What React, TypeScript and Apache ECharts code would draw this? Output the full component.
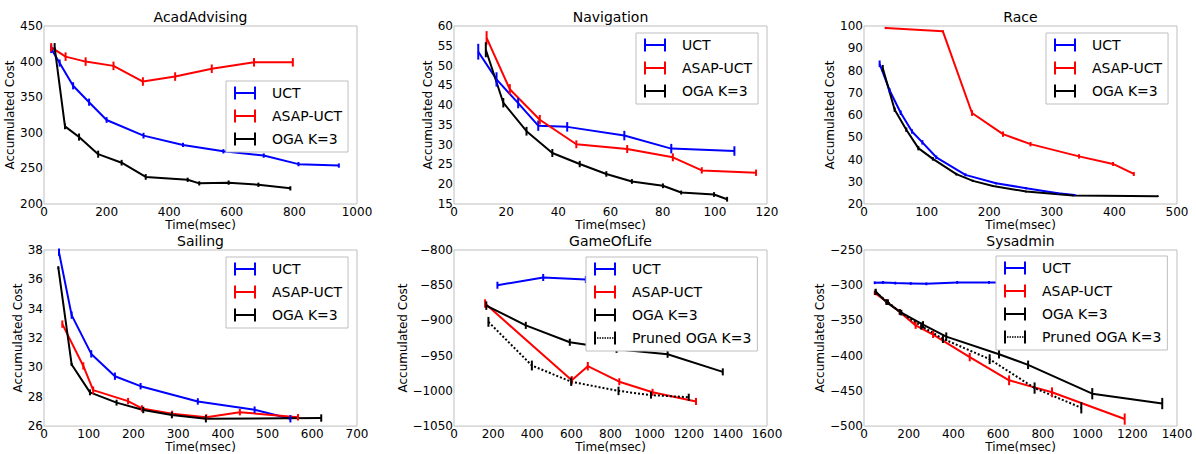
import React, { useEffect, useRef } from 'react';
import * as echarts from 'echarts';

const FONT = 'DejaVu Sans';
const BLUE = '#0000ff';
const RED = '#ff0000';
const BLACK = '#000000';

// Each point: [time (msec), accumulated cost, error half-width]
const acadUCT = [[23, 418, 6], [50, 398, 5], [93, 366, 5], [144, 343, 5], [200, 318, 4], [318, 296, 4], [444, 283, 3], [573, 274, 3], [702, 268, 3], [813, 256, 3], [942, 254, 3]];
const acadASAP = [[23, 420, 6], [69, 407, 6], [133, 400, 6], [222, 394, 6], [316, 372, 6], [419, 379, 6], [536, 390, 6], [671, 399, 6], [795, 399, 6]];
const acadOGA = [[34, 420, 6], [67, 309, 4], [112, 294, 5], [173, 270, 5], [248, 258, 4], [325, 238, 4], [459, 234, 3], [496, 229, 3], [590, 230, 3], [685, 227, 3], [787, 222, 3]];

const navUCT = [[9.3, 53.5, 2], [16.3, 46.5, 1.8], [24.6, 40.5, 1.3], [32.3, 34.8, 1.3], [43.4, 34.5, 1.2], [65.3, 32.3, 1.2], [83.3, 29, 1.2], [107.5, 28.4, 1.2]];
const navASAP = [[12.5, 57, 1.7], [21.4, 44, 1.3], [32.9, 36.3, 1.2], [46.9, 30.1, 1], [66.4, 28.9, 1], [83.9, 26.8, 1], [95, 23.5, 0.8], [115.8, 22.9, 0.8]];
const navOGA = [[12.2, 54, 1.9], [18.9, 40.6, 1.2], [27.8, 33.4, 1.1], [37.7, 27.9, 1], [48.2, 25.1, 0.8], [58.4, 22.6, 0.7], [68.2, 20.7, 0.6], [80.1, 19.6, 0.6], [87.1, 17.9, 0.5], [99.7, 17.4, 0.6], [104.7, 16.2, 0.6]];

const raceUCT = [[25, 83, 1.5], [41, 71, 1], [58.6, 61, 1], [76.7, 52.6, 1], [93.2, 47.7, 1], [115.5, 41, 0.8], [162, 33.1, 0.7], [211, 29.3, 0.5], [259, 27.1, 0.5], [310, 24.8, 0.4], [336.5, 24.1, 0.4]];
const raceASAP = [[34.6, 99.1, 0.5], [126, 97.6, 0.5], [172.5, 60.9, 1.3], [222, 51.4, 1.2], [266, 46.9, 1], [343.5, 41.4, 1], [397.8, 38, 0.9], [431, 33.5, 0.9]];
const raceOGA = [[30, 81, 1.5], [49, 62.4, 1], [67.6, 53.4, 1], [86.8, 45.1, 1], [110, 40.3, 0.8], [147.5, 33.4, 0.6], [174, 30.4, 0.5], [206, 28.1, 0.4], [259, 25.6, 0.4], [334, 23.8, 0.3], [469.6, 23.5, 0.3]];

const sailUCT = [[33.5, 37.85, 0.25], [61.8, 33.56, 0.25], [105.7, 30.92, 0.25], [158.6, 29.4, 0.25], [216, 28.72, 0.22], [344, 27.68, 0.22], [471, 27.12, 0.22], [551, 26.5, 0.25]];
const sailASAP = [[41, 32.95, 0.25], [87.9, 30.1, 0.25], [110, 28.45, 0.25], [188, 27.7, 0.22], [219, 27.2, 0.22], [286.7, 26.85, 0.2], [363, 26.61, 0.2], [438, 26.95, 0.22], [568, 26.6, 0.22]];
const sailOGA = [[32, 36.8, 0.1], [61.8, 30.2, 0.1], [102.8, 28.3, 0.2], [162.3, 27.6, 0.2], [222, 27.1, 0.22], [286, 26.75, 0.22], [362, 26.5, 0.25], [620, 26.55, 0.25]];

const golUCT = [[222, -850, 5], [456, -839, 5], [674, -842, 5], [900, -843, 5]];
const golASAP = [[159, -876, 6], [602, -985, 6], [684, -965, 6], [845, -987, 5], [1015, -1002, 5], [1237, -1015, 5]];
const golOGA = [[165, -879, 6], [367, -907, 5], [592, -931, 5], [831, -941, 5], [1092, -948, 5], [1374, -973, 5]];
const golPruned = [[176, -902, 7], [398, -964, 7], [599, -987, 6], [841, -1000, 6], [1007, -1006, 5], [1200, -1009, 5]];

const sysUCT = [[48, -296.5, 2], [85, -296, 2], [140, -297, 2], [209, -297.5, 2], [279, -298, 2], [417, -296, 2], [559, -296, 2], [900, -296, 2]];
const sysASAP = [[48, -311, 3], [100, -323, 3], [160, -338, 4], [231, -357, 5], [309, -370, 5], [473, -402, 6], [649, -435, 7], [841, -452, 7], [1166, -490, 8]];
const sysOGA = [[52, -309, 4], [100, -324, 4], [167, -339, 4], [264, -356, 5], [368, -373, 6], [604, -398, 6], [734, -413, 6], [1021, -454, 8], [1334, -468, 8]];
const sysPruned = [[52, -310, 4], [107, -324, 4], [160, -338, 4], [256, -358, 5], [353, -376, 6], [562, -405, 7], [763, -446, 8], [972, -474, 8]];

const SOLID_ICON = 'path://M0,0H2V13H0Z M2,5.5H20V7.5H2Z M20,0H22V13H20Z';
const DOTTED_ICON = 'path://M0,0H2V13H0Z M20,0H22V13H20Z M3,5.75H4.5V7.25H3Z M5.5,5.75H7V7.25H5.5Z M8,5.75H9.5V7.25H8Z M10.5,5.75H12V7.25H10.5Z M13,5.75H14.5V7.25H13Z M15.5,5.75H17V7.25H15.5Z M18,5.75H19.5V7.25H18Z';

type S = { name: string; data: number[][]; color: string; dotted?: boolean };
type P = {
  title: string; left: number; top: number;
  xMax: number; xInt: number; yMin: number; yMax: number; yInt: number;
  yNameGap: number; xNameGap: number; legendLeft: number; legendTop: number; series: S[];
};

const panels: P[] = [
  { title: 'AcadAdvising', left: 44, top: 26, xMax: 1000, xInt: 200, yMin: 200, yMax: 450, yInt: 50, yNameGap: 23, xNameGap: 10, legendLeft: 226, legendTop: 81,
    series: [{ name: 'UCT', data: acadUCT, color: BLUE }, { name: 'ASAP-UCT', data: acadASAP, color: RED }, { name: 'OGA K=3', data: acadOGA, color: BLACK }] },
  { title: 'Navigation', left: 454, top: 26, xMax: 120, xInt: 20, yMin: 15, yMax: 60, yInt: 5, yNameGap: 15, xNameGap: 10, legendLeft: 636, legendTop: 33,
    series: [{ name: 'UCT', data: navUCT, color: BLUE }, { name: 'ASAP-UCT', data: navASAP, color: RED }, { name: 'OGA K=3', data: navOGA, color: BLACK }] },
  { title: 'Race', left: 864, top: 26, xMax: 500, xInt: 100, yMin: 20, yMax: 100, yInt: 10, yNameGap: 21, xNameGap: 10, legendLeft: 1046, legendTop: 33,
    series: [{ name: 'UCT', data: raceUCT, color: BLUE }, { name: 'ASAP-UCT', data: raceASAP, color: RED }, { name: 'OGA K=3', data: raceOGA, color: BLACK }] },
  { title: 'Sailing', left: 44, top: 250, xMax: 700, xInt: 100, yMin: 26, yMax: 38, yInt: 2, yNameGap: 16, xNameGap: 11, legendLeft: 226, legendTop: 257,
    series: [{ name: 'UCT', data: sailUCT, color: BLUE }, { name: 'ASAP-UCT', data: sailASAP, color: RED }, { name: 'OGA K=3', data: sailOGA, color: BLACK }] },
  { title: 'GameOfLife', left: 454, top: 250, xMax: 1600, xInt: 200, yMin: -1050, yMax: -800, yInt: 50, yNameGap: 40, xNameGap: 11, legendLeft: 586, legendTop: 257,
    series: [{ name: 'UCT', data: golUCT, color: BLUE }, { name: 'ASAP-UCT', data: golASAP, color: RED }, { name: 'OGA K=3', data: golOGA, color: BLACK }, { name: 'Pruned OGA K=3', data: golPruned, color: BLACK, dotted: true }] },
  { title: 'Sysadmin', left: 864, top: 250, xMax: 1400, xInt: 200, yMin: -500, yMax: -250, yInt: 50, yNameGap: 32, xNameGap: 11, legendLeft: 996, legendTop: 256,
    series: [{ name: 'UCT', data: sysUCT, color: BLUE }, { name: 'ASAP-UCT', data: sysASAP, color: RED }, { name: 'OGA K=3', data: sysOGA, color: BLACK }, { name: 'Pruned OGA K=3', data: sysPruned, color: BLACK, dotted: true }] },
];

const GW = 313;
const GH = 178;
const fmt = (v: number) => String(v).replace('-', '\u2212');

export default function App() {
  const ref = useRef<HTMLDivElement>(null);
  useEffect(() => {
    if (!ref.current) return;
    const chart = echarts.init(ref.current, undefined, { renderer: 'svg' });
    const txt = { fontSize: 12, fontFamily: FONT, color: '#000' };
    const series: any[] = [];
    panels.forEach((p, i) => {
      p.series.forEach((s) => {
        series.push({
          type: 'line', name: s.name, xAxisIndex: i, yAxisIndex: i, data: s.data,
          encode: { x: 0, y: 1 }, symbol: 'none', z: 2,
          lineStyle: { color: s.color, width: 2, type: s.dotted ? [2, 2] : 'solid' },
          itemStyle: { color: s.color },
        });
        series.push({
          type: 'custom', name: s.name + ' error', xAxisIndex: i, yAxisIndex: i, data: s.data,
          dimensions: ['x', 'y', 'e'], encode: { x: 0, y: 1 }, z: 3,
          renderItem: (params: any, api: any) => {
            const x = api.value(0), y = api.value(1), e = api.value(2);
            const a = api.coord([x, y - e]);
            const b = api.coord([x, y + e]);
            return { type: 'line', shape: { x1: a[0], y1: a[1], x2: b[0], y2: b[1] }, style: { stroke: s.color, lineWidth: 2 } };
          },
        });
      });
    });
    chart.setOption({
      animation: false,
      grid: panels.map((p) => ({ left: p.left, top: p.top, width: GW, height: GH, show: true, borderColor: '#bfbfbf', borderWidth: 1, backgroundColor: 'transparent' })),
      xAxis: panels.map((p, i) => ({
        type: 'value', gridIndex: i, min: 0, max: p.xMax, interval: p.xInt,
        name: 'Time(msec)', nameLocation: 'middle', nameGap: p.xNameGap, nameTextStyle: txt,
        axisLine: { show: false }, axisTick: { show: false }, splitLine: { show: false },
        axisLabel: { ...txt, margin: 2, formatter: fmt },
      })),
      yAxis: panels.map((p, i) => ({
        type: 'value', gridIndex: i, min: p.yMin, max: p.yMax, interval: p.yInt,
        name: 'Accumulated Cost', nameLocation: 'middle', nameGap: p.yNameGap, nameTextStyle: txt,
        axisLine: { show: false }, axisTick: { show: false }, splitLine: { show: false },
        axisLabel: { ...txt, margin: 1, formatter: fmt },
      })),
      legend: panels.map((p) => ({
        orient: 'vertical', left: p.legendLeft, top: p.legendTop, z: 10,
        data: p.series.map((s) => ({ name: s.name, icon: s.dotted ? DOTTED_ICON : SOLID_ICON })),
        itemWidth: 22, itemHeight: 13, itemGap: 9, padding: [5, 6, 6, 8],
        backgroundColor: '#ffffff', borderColor: '#bfbfbf', borderWidth: 1, borderRadius: 0,
        selectedMode: false, itemStyle: { borderWidth: 0 },
        textStyle: { fontSize: 14, fontFamily: FONT, color: '#000', lineHeight: 13, padding: [0, 0, 0, 11] },
      })),
      graphic: {
        elements: panels.map((p) => ({
          type: 'text', x: p.left + GW / 2, y: p.top - 9.5, z: 10,
          style: { text: p.title, fontSize: 14, fontFamily: FONT, fill: '#000', align: 'center', verticalAlign: 'middle' },
        })),
      },
      series,
    });
    return () => chart.dispose();
  }, []);
  return <div ref={ref} style={{ position: 'absolute', left: 0, top: 0, width: 1196, height: 454 }} />;
}
